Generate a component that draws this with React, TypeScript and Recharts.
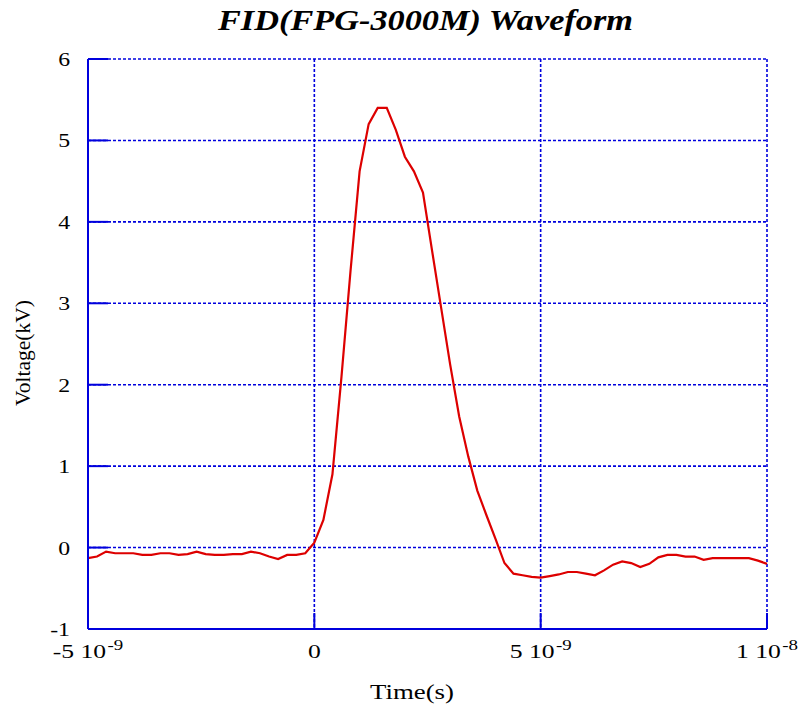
import { LineChart, Line, XAxis, YAxis, CartesianGrid } from "recharts";

// waktu dalam ns, tegangan dalam kV
const timeNs = [
  -5.0, -4.8, -4.6, -4.4, -4.2, -4.0, -3.8, -3.6, -3.4, -3.2,
  -3.0, -2.8, -2.6, -2.4, -2.2, -2.0, -1.8, -1.6, -1.4, -1.2,
  -1.0, -0.8, -0.6, -0.4, -0.2, 0.0, 0.2, 0.4, 0.6, 0.8,
  1.0, 1.2, 1.4, 1.6, 1.8, 2.0, 2.2, 2.4, 2.6, 2.8,
  3.0, 3.2, 3.4, 3.6, 3.8, 4.0, 4.2, 4.4, 4.6, 4.8,
  5.0, 5.2, 5.4, 5.6, 5.8, 6.0, 6.2, 6.4, 6.6, 6.8,
  7.0, 7.2, 7.4, 7.6, 7.8, 8.0, 8.2, 8.4, 8.6, 8.8,
  9.0, 9.2, 9.4, 9.6, 9.8, 10.0,
];
const voltageKV = [
  -0.13, -0.11, -0.05, -0.07, -0.07, -0.07, -0.09, -0.09, -0.07, -0.07,
  -0.09, -0.08, -0.05, -0.08, -0.09, -0.09, -0.08, -0.08, -0.05, -0.07,
  -0.11, -0.14, -0.09, -0.09, -0.07, 0.06, 0.34, 0.9, 2.1, 3.4,
  4.62, 5.2, 5.4, 5.4, 5.13, 4.8, 4.62, 4.36, 3.65, 2.95,
  2.25, 1.61, 1.12, 0.7, 0.4, 0.11, -0.19, -0.32, -0.34, -0.36,
  -0.37, -0.35, -0.33, -0.3, -0.3, -0.32, -0.34, -0.28, -0.21, -0.17,
  -0.19, -0.24, -0.2, -0.12, -0.09, -0.09, -0.11, -0.11, -0.15, -0.13,
  -0.13, -0.13, -0.13, -0.13, -0.16, -0.2,
];

const xTicks = [-5, 0, 5, 10];
const xTickMantissa = ["-5 10", "0", "5 10", "1 10"];
const xTickExponent = ["-9", "", "-9", "-8"];
const yTicks = [-1, 0, 1, 2, 3, 4, 5, 6];

const data = timeNs.map((t, i) => ({ t, v: voltageKV[i] }));

const BLUE = "#0000dd";
const RED = "#dd0000";
const FONT = "'Liberation Serif', 'Times New Roman', serif";
const X_TICK_LEN = 16;
const Y_TICK_LEN = 20;

function BottomTick(props: any) {
  const { x, y, payload } = props;
  const i = xTicks.indexOf(payload.value);
  return (
    <g>
      <line x1={x} y1={y} x2={x} y2={y - X_TICK_LEN} stroke={BLUE} strokeWidth={2} />
      <g transform={`translate(${x},${y + 29}) scale(1.35,1)`}>
        <text x={0} y={0} textAnchor="middle" fontSize={19} fill="#000" fontFamily={FONT}>
          {xTickMantissa[i]}
          {xTickExponent[i] && (
            <tspan dy={-8} dx={1} fontSize={14}>{xTickExponent[i]}</tspan>
          )}
        </text>
      </g>
    </g>
  );
}

function TopTick(props: any) {
  const { x, y } = props;
  return <line x1={x} y1={y} x2={x} y2={y + X_TICK_LEN} stroke={BLUE} strokeWidth={2} />;
}

function LeftTick(props: any) {
  const { x, y, payload } = props;
  return (
    <g>
      <line x1={x} y1={y} x2={x + Y_TICK_LEN} y2={y} stroke={BLUE} strokeWidth={2} />
      <g transform={`translate(${x - 18},${y + 7}) scale(1.25,1)`}>
        <text x={0} y={0} textAnchor="end" fontSize={19} fill="#000" fontFamily={FONT}>
          {payload.value}
        </text>
      </g>
    </g>
  );
}

function RightTick(props: any) {
  const { x, y } = props;
  return <line x1={x} y1={y} x2={x - Y_TICK_LEN} y2={y} stroke={BLUE} strokeWidth={2} />;
}

export default function App() {
  return (
    <div style={{ position: "absolute", left: 0, top: 0, width: 800, height: 705, background: "#fff" }}>
      <LineChart
        width={800}
        height={705}
        data={data}
        margin={{ top: 59, right: 33, bottom: 0, left: 0 }}
      >
        <CartesianGrid stroke={BLUE} strokeDasharray="3 2" strokeWidth={1.6} />
        <XAxis
          dataKey="t"
          type="number"
          domain={[-5, 10]}
          ticks={xTicks}
          height={76}
          tickSize={0}
          tickMargin={0}
          tickLine={false}
          axisLine={{ stroke: BLUE, strokeWidth: 2 }}
          tick={<BottomTick />}
          interval={0}
        />
        <XAxis
          xAxisId="top"
          orientation="top"
          type="number"
          domain={[-5, 10]}
          ticks={xTicks}
          height={0}
          tickSize={0}
          tickMargin={0}
          tickLine={false}
          axisLine={{ stroke: BLUE, strokeWidth: 2 }}
          tick={<TopTick />}
          interval={0}
        />
        <YAxis
          type="number"
          domain={[-1, 6]}
          ticks={yTicks}
          width={88}
          tickSize={0}
          tickMargin={0}
          tickLine={false}
          axisLine={{ stroke: BLUE, strokeWidth: 2 }}
          tick={<LeftTick />}
          interval={0}
        />
        <YAxis
          yAxisId="right"
          orientation="right"
          type="number"
          domain={[-1, 6]}
          ticks={yTicks}
          width={0}
          tickSize={0}
          tickMargin={0}
          tickLine={false}
          axisLine={{ stroke: BLUE, strokeWidth: 2 }}
          tick={<RightTick />}
          interval={0}
        />
        <Line
          type="linear"
          dataKey="v"
          stroke={RED}
          strokeWidth={2.2}
          dot={false}
          isAnimationActive={false}
        />
      </LineChart>
      <svg
        width={800}
        height={705}
        style={{ position: "absolute", left: 0, top: 0, pointerEvents: "none" }}
      >
        <text
          x={425.5}
          y={30}
          textAnchor="middle"
          fontSize={30}
          fontWeight="bold"
          fontStyle="italic"
          fontFamily={FONT}
          textLength={415}
          lengthAdjust="spacingAndGlyphs"
        >
          FID(FPG-3000M) Waveform
        </text>
        <text
          x={30}
          y={353}
          transform="rotate(-90 30 353)"
          textAnchor="middle"
          fontSize={22}
          fontFamily={FONT}
          textLength={106}
          lengthAdjust="spacingAndGlyphs"
        >
          Voltage(kV)
        </text>
        <text
          x={412}
          y={699}
          textAnchor="middle"
          fontSize={22}
          fontFamily={FONT}
          textLength={84}
          lengthAdjust="spacingAndGlyphs"
        >
          Time(s)
        </text>
      </svg>
    </div>
  );
}
